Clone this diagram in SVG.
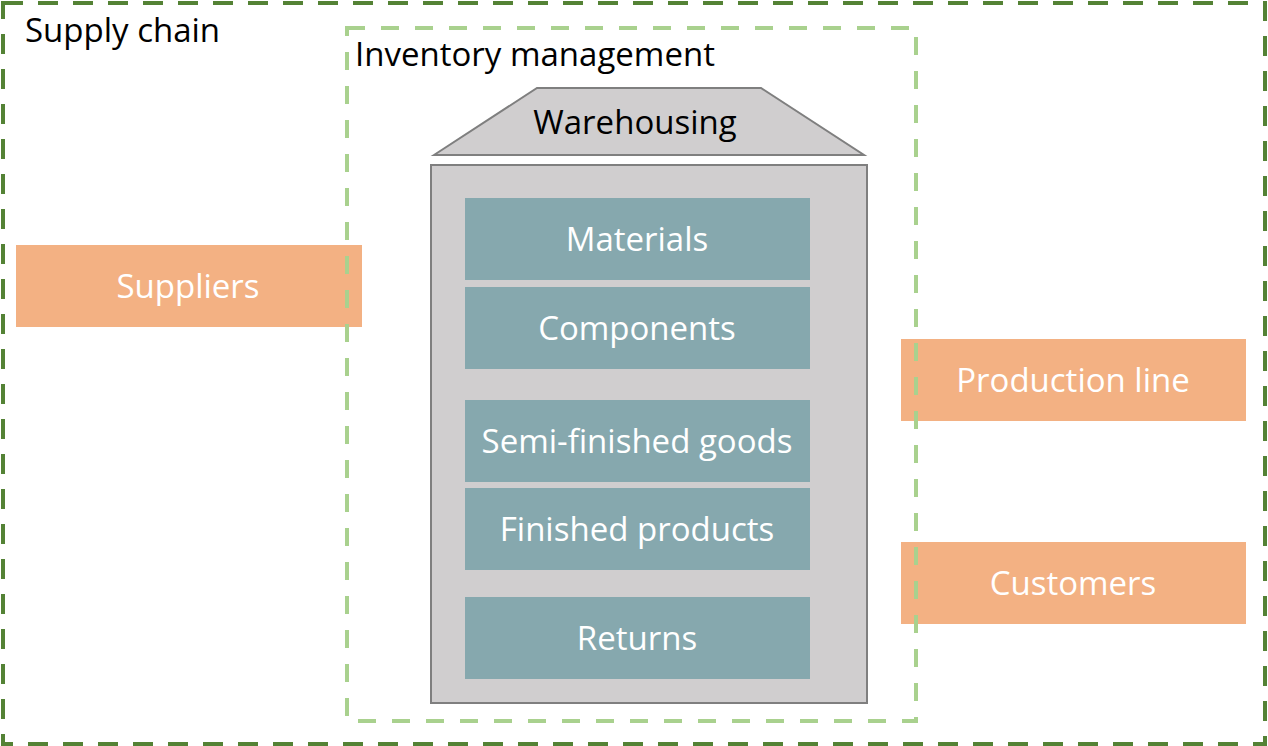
<svg xmlns="http://www.w3.org/2000/svg" width="1268" height="746" viewBox="0 0 1268 746">
<style>
text{font-family:"Open Sans","Noto Sans","Liberation Sans",sans-serif;font-size:33px}
.lbl{fill:#000}
.w{fill:#fff;text-anchor:middle;dominant-baseline:central}
.teal{fill:#86a8ae}
.orange{fill:#f3b183}
.house{fill:#d0cecf;stroke:#7f7f7f;stroke-width:2}
</style>
<rect width="1268" height="746" fill="#fff"/>
<g id="warehouse">
<polygon class="house" points="434,155 537,88 761,88 864,155"/>
<text class="lbl" x="635" y="121" text-anchor="middle" dominant-baseline="central">Warehousing</text>
<rect class="house" x="431" y="165" width="436" height="538"/>
</g>
<g id="materials"><rect class="teal" x="465" y="198" width="345" height="82"/><text class="w" x="637" y="238.5">Materials</text></g>
<g id="components"><rect class="teal" x="465" y="287" width="345" height="82"/><text class="w" x="637" y="327.5">Components</text></g>
<g id="semi"><rect class="teal" x="465" y="400" width="345" height="82"/><text class="w" x="637" y="440.5">Semi-finished goods</text></g>
<g id="finished"><rect class="teal" x="465" y="488" width="345" height="82"/><text class="w" x="637" y="528.5">Finished products</text></g>
<g id="returns"><rect class="teal" x="465" y="597" width="345" height="82"/><text class="w" x="637" y="637.5">Returns</text></g>
<g id="suppliers"><rect class="orange" x="16" y="245" width="346" height="82"/><text class="w" x="188" y="285.5">Suppliers</text></g>
<g id="production"><rect class="orange" x="901" y="339" width="345" height="82"/><text class="w" x="1073" y="379.5">Production line</text></g>
<g id="customers"><rect class="orange" x="901" y="542" width="345" height="82"/><text class="w" x="1073" y="582.5">Customers</text></g>
<g id="inventory">
<rect x="347" y="28" width="569" height="693" fill="none" stroke="#a9d18e" stroke-width="4" stroke-dasharray="18 16"/>
<text class="lbl" x="355" y="53" dominant-baseline="central">Inventory management</text>
</g>
<g id="supplychain">
<rect x="3" y="3" width="1262" height="741" fill="none" stroke="#548235" stroke-width="4" stroke-dasharray="20 15"/>
<text class="lbl" x="25" y="29" dominant-baseline="central">Supply chain</text>
</g>
<g id="connectors"/>
</svg>
